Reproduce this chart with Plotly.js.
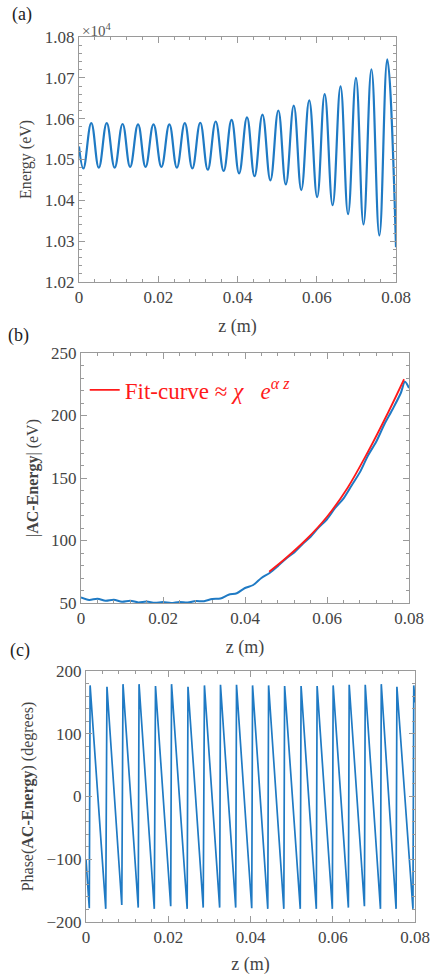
<!DOCTYPE html>
<html>
<head>
<meta charset="utf-8">
<script src="https://cdn.plot.ly/plotly-3.0.1.min.js"></script>
<style>html,body{margin:0;padding:0;background:#fff;}#chart{width:430px;height:980px;}</style>
</head>
<body>
<div id="chart"></div>
<script>
// Panel (a): Energy (eV) vs z (m) — extremes
const energyZ = [0, 0.0011, 0.0031, 0.0050, 0.0070, 0.0090, 0.0110, 0.0129, 0.0149, 0.0168, 0.0188,
  0.0208, 0.0228, 0.0247, 0.0267, 0.0286, 0.0306, 0.0325, 0.0345, 0.0365, 0.0385,
  0.0404, 0.0424, 0.0443, 0.0463, 0.0483, 0.0503, 0.0522, 0.0542, 0.0561, 0.0581,
  0.0601, 0.0620, 0.0640, 0.0660, 0.0679, 0.0699, 0.0718, 0.0738, 0.0758, 0.0778, 0.0800];
const energyEV = [10532, 10478, 10589, 10480, 10589, 10480, 10587, 10482, 10586, 10482, 10586,
  10482, 10586, 10480, 10589, 10478, 10590, 10475, 10593, 10472, 10597,
  10466, 10603, 10459, 10610, 10449, 10620, 10439, 10632, 10425, 10645,
  10408, 10660, 10388, 10679, 10366, 10700, 10341, 10721, 10314, 10745, 10285];
const energyTickVals = [10200, 10300, 10400, 10500, 10600, 10700, 10800];
const energyTickText = ['1.02', '1.03', '1.04', '1.05', '1.06', '1.07', '1.08'];

// Panel (b): |AC-Energy| (eV)
const acZ = [0, 0.002, 0.004, 0.006, 0.008, 0.010, 0.012, 0.014, 0.016, 0.018, 0.020,
  0.022, 0.024, 0.026, 0.028, 0.030, 0.032, 0.034, 0.036, 0.038, 0.040,
  0.042, 0.044, 0.046, 0.048, 0.050, 0.052, 0.054, 0.056, 0.058, 0.060,
  0.062, 0.064, 0.066, 0.068, 0.070, 0.072, 0.074, 0.076, 0.078, 0.079, 0.080];
const acAmp = [54.5, 52.5, 53.5, 51.8, 52.6, 51.0, 51.8, 50.5, 51.2, 50.2, 50.8,
  50.0, 50.9, 50.4, 51.6, 51.4, 53.2, 53.6, 56.6, 57.8, 62.0,
  64.4, 70.0, 74.0, 79.5, 85.5, 90.5, 97.0, 103, 110.5, 117,
  126, 133.5, 144, 154.5, 168, 179, 193, 205, 218, 227, 222];
const fitZ = [0.0459, 0.050, 0.055, 0.060, 0.065, 0.070, 0.075, 0.0788];
const fitAmp = [75, 86, 101, 119, 142, 171, 203, 229];
const fitName = 'Fit-curve ≈ <i>χ</i>   <i>e</i><sup><i>α z</i></sup>';

// Panel (c): Phase(AC-Energy) (degrees)
const phaseZ = [0, 0.0008, 0.0010, 0.0048, 0.0051, 0.0087, 0.0090, 0.0127, 0.0129, 0.0166, 0.0169,
  0.0206, 0.0208, 0.0246, 0.0248, 0.0285, 0.0288, 0.0325, 0.0327, 0.0364, 0.0366,
  0.0403, 0.0405, 0.0442, 0.0444, 0.0481, 0.0483, 0.0521, 0.0523, 0.0560, 0.0562,
  0.0599, 0.0601, 0.0638, 0.0640, 0.0677, 0.0679, 0.0716, 0.0718, 0.0754, 0.0756,
  0.0795, 0.0797, 0.0800];
const phaseDeg = [-100, -178, 177, -179, 175, -173, 179, -177, 179, -179, 176,
  -175, 179, -179, 175, -177, 177, -177, 178, -177, 178,
  -178, 177, -179, 177, -179, 176, -179, 176, -179, 176,
  -179, 177, -177, 178, -175, 178, -179, 179, -179, 175,
  -179, 177, 150];

const BLUE = '#1f7ac4';
const SERIF = 'Liberation Serif, Times New Roman, serif';
const AX = '#9a9a9a';

function axisBase(extra) {
  return Object.assign({
    showline: true, linecolor: AX, linewidth: 1, mirror: 'allticks',
    ticks: 'inside', ticklen: 6, tickcolor: AX, tickwidth: 1,
    showgrid: false, zeroline: false,
    tickfont: {family: SERIF, size: 17, color: '#444'},
    automargin: false
  }, extra);
}

const traces = [
  {x: energyZ, y: energyEV, xaxis: 'x', yaxis: 'y', mode: 'lines',
   line: {color: BLUE, width: 2.2, shape: 'spline', smoothing: 1.2}, showlegend: false, hoverinfo: 'skip'},
  {x: acZ, y: acAmp, xaxis: 'x2', yaxis: 'y2', mode: 'lines',
   line: {color: BLUE, width: 2, shape: 'spline', smoothing: 0.8}, showlegend: false},
  {x: fitZ, y: fitAmp, xaxis: 'x2', yaxis: 'y2', mode: 'lines', name: fitName,
   line: {color: '#ff1a1a', width: 1.8, shape: 'spline'}, showlegend: true},
  {x: phaseZ, y: phaseDeg, xaxis: 'x3', yaxis: 'y3', mode: 'lines',
   line: {color: BLUE, width: 1.7}, showlegend: false}
];

const xTitle = (s) => ({text: 'z (m)', font: {family: SERIF, size: 18, color: '#444'}, standoff: s});

const layout = {
  width: 430, height: 980,
  margin: {l: 0, r: 0, t: 0, b: 0},
  paper_bgcolor: '#fff', plot_bgcolor: '#fff',
  font: {family: SERIF, color: '#444'},
  showlegend: true,
  legend: {x: 0.197, y: 1 - 390 / 980, xanchor: 'left', yanchor: 'middle',
           bgcolor: 'rgba(0,0,0,0)', font: {family: SERIF, size: 23, color: '#ff1a1a'},
           tracegroupgap: 0},
  xaxis: axisBase({domain: [79 / 430, 396 / 430], anchor: 'y', range: [0, 0.08], dtick: 0.02, tick0: 0,
    minor: {dtick: 0.004, ticks: 'inside', ticklen: 3, tickcolor: AX},
    title: xTitle(12)}),
  yaxis: axisBase({domain: [1 - 282 / 980, 1 - 37 / 980], anchor: 'x', range: [10200, 10800],
    tickmode: 'array', tickvals: energyTickVals, ticktext: energyTickText,
    minor: {tickmode: 'linear', tick0: 10200, dtick: 20, ticks: 'inside', ticklen: 3, tickcolor: AX},
    title: {text: 'Energy (eV)', font: {family: SERIF, size: 16, color: '#444'}, standoff: 9}}),
  xaxis2: axisBase({domain: [81 / 430, 409 / 430], anchor: 'y2', range: [0, 0.08], dtick: 0.02, tick0: 0,
    minor: {dtick: 0.004, ticks: 'inside', ticklen: 3, tickcolor: AX},
    title: xTitle(12)}),
  yaxis2: axisBase({domain: [1 - 603 / 980, 1 - 353 / 980], anchor: 'x2', range: [50, 250], dtick: 50, tick0: 0,
    minor: {dtick: 10, ticks: 'inside', ticklen: 3, tickcolor: AX},
    title: {text: '|<b>AC-Energy</b>| (eV)', font: {family: SERIF, size: 16, color: '#444'}, standoff: 8}}),
  xaxis3: axisBase({domain: [86 / 430, 415 / 430], anchor: 'y3', range: [0, 0.08], dtick: 0.02, tick0: 0,
    minor: {dtick: 0.004, ticks: 'inside', ticklen: 3, tickcolor: AX},
    title: xTitle(10)}),
  yaxis3: axisBase({domain: [1 - 922 / 980, 1 - 671 / 980], anchor: 'x3', range: [-200, 200], dtick: 100, tick0: 0,
    minor: {dtick: 20, ticks: 'inside', ticklen: 3, tickcolor: AX},
    title: {text: 'Phase(<b>AC-Energy</b>) (degrees)', font: {family: SERIF, size: 16, color: '#444'}, standoff: 8}}),
  annotations: [
    {text: '(a)', xref: 'paper', yref: 'paper', x: 22 / 430, y: 1 - 15 / 980, showarrow: false,
     xanchor: 'center', yanchor: 'middle', font: {family: SERIF, size: 18, color: '#222'}},
    {text: '(b)', xref: 'paper', yref: 'paper', x: 18 / 430, y: 1 - 335 / 980, showarrow: false,
     xanchor: 'center', yanchor: 'middle', font: {family: SERIF, size: 18, color: '#222'}},
    {text: '(c)', xref: 'paper', yref: 'paper', x: 20 / 430, y: 1 - 650 / 980, showarrow: false,
     xanchor: 'center', yanchor: 'middle', font: {family: SERIF, size: 18, color: '#222'}},
    {text: '×10<sup>4</sup>', xref: 'paper', yref: 'paper', x: 80 / 430, y: 1 - 30 / 980, showarrow: false,
     xanchor: 'left', yanchor: 'middle', font: {family: SERIF, size: 15, color: '#555'}}
  ]
};

Plotly.newPlot('chart', traces, layout, {staticPlot: true, displayModeBar: false});
</script>
</body>
</html>
